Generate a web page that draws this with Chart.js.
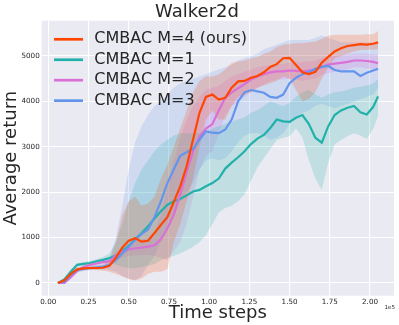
<!DOCTYPE html>
<html>
<head>
<meta charset="utf-8">
<script src="https://cdn.jsdelivr.net/npm/chart.js@4.4.0/dist/chart.umd.min.js"></script>
<style>
  html, body { margin: 0; padding: 0; background: #fff; }
  #chart { display: block; }
</style>
</head>
<body>
<canvas id="chart" width="399" height="325"></canvas>
<script>
// time steps, in units of 1e5
const steps = [0.06, 0.10, 0.14, 0.18, 0.22, 0.26, 0.30, 0.34, 0.38, 0.42,
  0.46, 0.50, 0.54, 0.58, 0.62, 0.66, 0.70, 0.74, 0.78, 0.82,
  0.86, 0.90, 0.94, 0.98, 1.02, 1.06, 1.10, 1.14, 1.18, 1.22,
  1.26, 1.30, 1.34, 1.38, 1.42, 1.46, 1.50, 1.54, 1.58, 1.62,
  1.66, 1.70, 1.74, 1.78, 1.82, 1.86, 1.90, 1.94, 1.98, 2.02, 2.05];

const m4 = [0, 60, 200, 300, 320, 330, 330, 335, 380, 560,
  780, 930, 985, 910, 930, 1100, 1280, 1450, 1780, 2125,
  2570, 3160, 3750, 4100, 4150, 4040, 4080, 4300, 4440, 4450,
  4520, 4560, 4640, 4760, 4820, 4950, 4960, 4800, 4640, 4600,
  4650, 4850, 4980, 5100, 5170, 5220, 5240, 5260, 5250, 5270, 5300];
const m4Hi = [0, 80, 240, 340, 360, 370, 380, 400, 500, 900,
  1500, 1800, 1900, 1700, 1750, 1900, 2300, 2600, 3000, 3400,
  3800, 4200, 4450, 4550, 4550, 4600, 4700, 4850, 4880, 4900,
  4950, 4980, 5050, 5100, 5200, 5250, 5270, 5280, 5280, 5300,
  5320, 5380, 5450, 5460, 5470, 5470, 5470, 5470, 5480, 5480, 5550];
const m4Lo = [0, 40, 160, 260, 280, 290, 280, 270, 250, 200,
  150, 80, 60, 100, 200, 250, 250, 300, 900, 1300,
  1800, 2300, 3000, 3600, 3800, 3600, 3600, 3900, 4100, 4150,
  4200, 4300, 4350, 4400, 4450, 4550, 4500, 4250, 4000, 4050,
  4200, 4500, 4750, 4950, 5000, 5050, 5100, 5130, 5130, 5140, 5150];

const m1 = [0, 80, 250, 400, 420, 440, 480, 510, 550, 600,
  700, 820, 960, 1100, 1250, 1420, 1580, 1720, 1800, 1850,
  1930, 2015, 2050, 2130, 2200, 2300, 2520, 2650, 2770, 2900,
  3060, 3180, 3260, 3415, 3600, 3560, 3550, 3640, 3700, 3500,
  3200, 3090, 3450, 3700, 3800, 3860, 3900, 3760, 3710, 3880, 4110];
const m1Hi = [0, 120, 300, 440, 460, 490, 530, 570, 650, 900,
  1300, 1800, 2200, 2500, 2700, 2900, 3050, 3150, 3250, 3300,
  3300, 3300, 3300, 3350, 3400, 3450, 3500, 3550, 3600, 3650,
  3750, 3800, 3900, 4000, 3950, 3900, 3970, 4100, 4200, 4250,
  4150, 4080, 4150, 4200, 4220, 4250, 4300, 4320, 4350, 4400, 4480];
const m1Lo = [0, 40, 200, 360, 380, 390, 420, 450, 450, 400,
  350, 330, 320, 350, 380, 420, 500, 550, 600, 650,
  720, 800, 900, 1050, 1300, 1550, 1650, 1700, 1800, 1950,
  2250, 2550, 2750, 2950, 3150, 3200, 3230, 3400, 3200, 2700,
  2300, 2050, 2650, 3050, 3150, 3230, 3300, 3250, 3170, 3400, 3670];

const m2 = [0, 0, 130, 270, 350, 400, 430, 460, 480, 600,
  690, 740, 765, 780, 800, 830, 960, 1200, 1500, 1950,
  2450, 2900, 3230, 3400, 3500, 3800, 4080, 4200, 4290, 4380,
  4480, 4550, 4600, 4640, 4660, 4660, 4680, 4670, 4660, 4680,
  4700, 4760, 4810, 4830, 4850, 4870, 4900, 4900, 4890, 4870, 4840];
const m2Hi = [0, 40, 180, 320, 400, 450, 480, 510, 540, 680,
  800, 870, 920, 950, 1000, 1100, 1500, 2100, 2700, 3200,
  3600, 3900, 4100, 4250, 4300, 4350, 4450, 4550, 4600, 4650,
  4700, 4750, 4780, 4800, 4820, 4830, 4850, 4860, 4870, 4880,
  4900, 4950, 5000, 5000, 5020, 5030, 5050, 5050, 5050, 5040, 5020];
const m2Lo = [0, 0, 90, 220, 300, 350, 380, 410, 420, 500,
  560, 600, 610, 610, 620, 600, 550, 500, 700, 900,
  1300, 1900, 2500, 2800, 2900, 3300, 3700, 3900, 4000, 4100,
  4200, 4300, 4380, 4450, 4480, 4480, 4500, 4480, 4450, 4480,
  4500, 4580, 4620, 4660, 4680, 4710, 4750, 4750, 4730, 4700, 4680];

const m3 = [0, 30, 180, 290, 310, 330, 345, 360, 400, 500,
  650, 800, 950, 1080, 1180, 1450, 1800, 2200, 2500, 2800,
  2880, 2950, 3160, 3340, 3310, 3300, 3380, 3600, 4000, 4200,
  4250, 4220, 4190, 4100, 4080, 4150, 4400, 4520, 4600, 4650,
  4720, 4760, 4780, 4690, 4660, 4660, 4660, 4560, 4630, 4680, 4720];
const m3Hi = [0, 60, 230, 340, 360, 380, 400, 420, 550, 1000,
  1700, 2500, 3100, 3450, 3700, 3900, 4000, 4150, 4300, 4400,
  4450, 4500, 4550, 4600, 4650, 4700, 4750, 4800, 4900, 4950,
  5000, 5050, 5150, 5200, 5250, 5300, 5350, 5350, 5350, 5350,
  5400, 5450, 5400, 5350, 5300, 5300, 5300, 5300, 5300, 5300, 5300];
const m3Lo = [0, 0, 130, 240, 260, 280, 290, 300, 280, 250,
  150, 100, 60, 150, 400, 600, 900, 1200, 1500, 1800,
  2000, 2200, 2500, 2700, 2750, 2700, 2750, 2900, 3100, 3250,
  3300, 3300, 3250, 3150, 3200, 3300, 3500, 3650, 3750, 3800,
  3900, 3950, 3900, 3850, 3900, 3950, 4000, 4050, 4100, 4150, 4300];

const xTicks = [0, 0.25, 0.5, 0.75, 1, 1.25, 1.5, 1.75, 2];
const yTicks = [0, 1000, 2000, 3000, 4000, 5000];

const series = [
  { label: "CMBAC M=4 (ours)", mean: m4, hi: m4Hi, lo: m4Lo, color: "#ff4500", band: "rgba(255,69,0,0.2)" },
  { label: "CMBAC M=1", mean: m1, hi: m1Hi, lo: m1Lo, color: "#20b2aa", band: "rgba(32,178,170,0.2)" },
  { label: "CMBAC M=2", mean: m2, hi: m2Hi, lo: m2Lo, color: "#da70d6", band: "rgba(218,112,214,0.2)" },
  { label: "CMBAC M=3", mean: m3, hi: m3Hi, lo: m3Lo, color: "#6495ed", band: "rgba(100,149,237,0.2)" }
];

const FONT = "'DejaVu Sans', sans-serif";
const TEXT = "#262626";

const pts = arr => steps.map((x, i) => ({ x: x, y: arr[i] }));

const datasets = [];
series.forEach(s => {
  const loIdx = datasets.length;
  datasets.push({ data: pts(s.lo), borderWidth: 0, pointRadius: 0, fill: false, order: 2 });
  datasets.push({ data: pts(s.hi), borderWidth: 0, pointRadius: 0, backgroundColor: s.band,
    fill: { target: loIdx }, order: 2 });
});
// draw teal first, orange last (on top)
[1, 2, 3, 0].forEach((k, n) => {
  const s = series[k];
  datasets.push({ label: s.label, data: pts(s.mean), borderColor: s.color, borderWidth: 2.2,
    pointRadius: 0, fill: false, order: 1 - n * 0.01 });
});

const plotBg = {
  id: "plotBg",
  beforeDraw(chart) {
    const { ctx, chartArea: a } = chart;
    ctx.save();
    ctx.fillStyle = "#eaeaf2";
    ctx.fillRect(a.left, a.top, a.right - a.left, a.bottom - a.top);
    ctx.restore();
  }
};

const legendIn = {
  id: "legendIn",
  afterDraw(chart) {
    const { ctx, chartArea: a } = chart;
    ctx.save();
    ctx.font = "16px " + FONT;
    ctx.textBaseline = "middle";
    series.forEach((s, i) => {
      const y = a.top + 18.6 + i * 20.45;
      ctx.strokeStyle = s.color;
      ctx.lineWidth = 2.7;
      ctx.beginPath();
      ctx.moveTo(54, y);
      ctx.lineTo(83, y);
      ctx.stroke();
      ctx.fillStyle = TEXT;
      ctx.fillText(s.label, 94.3, y);
    });
    // offset text of the x axis
    ctx.font = "5.5px " + FONT;
    ctx.textAlign = "right";
    ctx.fillText("1e5", 395, 308);
    ctx.restore();
  }
};

new Chart(document.getElementById("chart"), {
  type: "line",
  data: { datasets: datasets },
  plugins: [plotBg, legendIn],
  options: {
    responsive: false,
    animation: false,
    events: [],
    layout: { padding: { top: 0, right: 5, bottom: 0, left: 0 } },
    plugins: {
      legend: { display: false },
      tooltip: { enabled: false },
      title: { display: true, text: "Walker2d", color: TEXT,
        font: { family: FONT, size: 18, weight: "normal", lineHeight: 0.95 },
        padding: { top: 3.6, bottom: 0 } }
    },
    scales: {
      x: {
        type: "linear", min: -0.041, max: 2.149,
        grid: { color: "#ffffff", lineWidth: 1.1, drawTicks: false },
        border: { display: false },
        ticks: { color: TEXT, font: { family: FONT, size: 7.2 }, padding: 2, maxRotation: 0,
          autoSkip: false, callback: v => v.toFixed(2) },
        afterBuildTicks: s => { s.ticks = xTicks.map(v => ({ value: v })); },
        afterFit: s => { s.height = 29.3; },
        title: { display: true, text: "Time steps", color: TEXT,
          font: { family: FONT, size: 18 }, padding: { top: 0, bottom: 1.2 } }
      },
      y: {
        min: -280, max: 5777,
        grid: { color: "#ffffff", lineWidth: 1.1, drawTicks: false },
        border: { display: false },
        ticks: { color: TEXT, font: { family: FONT, size: 7.2 }, padding: 2,
          callback: v => String(v) },
        afterBuildTicks: s => { s.ticks = yTicks.map(v => ({ value: v })); },
        afterFit: s => { s.width = 41.7; },
        title: { display: true, text: "Average return", color: TEXT,
          font: { family: FONT, size: 18 }, padding: { top: 0.7, bottom: 0 } }
      }
    }
  }
});
</script>
</body>
</html>
